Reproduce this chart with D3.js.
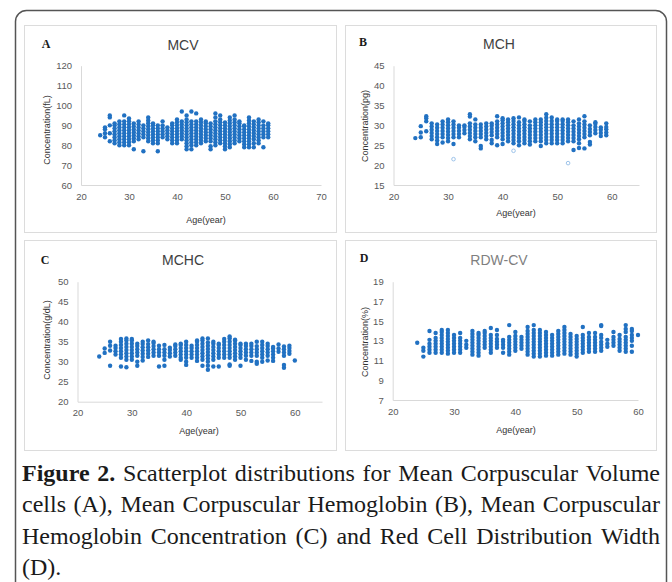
<!DOCTYPE html>
<html>
<head>
<meta charset="utf-8">
<script src="https://cdn.jsdelivr.net/npm/d3@7"></script>
<style>
body{margin:0;background:#fff}
svg{display:block}
</style>
</head>
<body>
<div id="container"></div>
<script>
// values, one column per age: [age, [values]]
var mcvCols = [
 [24,[85]],[25,[84,86,88,89]],[26,[82,86,90,94,95]],
 [27,[81,82.5,84,85.5,87,88.5,90,91]],[28,[80,81.5,83,84.5,86,87.5,89,90.5,92]],
 [29,[80,81.5,83,84.5,86,87.5,89,90.5,92,95]],[30,[80,81.5,83,84.5,86,87.5,89,90.5,92,93.5]],
 [31,[78,82,83.5,85,86.5,88,89.5,91]],[32,[83,84.5,86,87.5,89,90.5,92]],
 [33,[77,84,85.5,87,88.5,90]],[34,[82,83.5,85,86.5,88,89.5,91,92.5,94]],
 [35,[81,82.5,84,85.5,87,88.5,90,91]],[36,[77,81,82.5,84,85.5,87,88.5,90]],
 [37,[84,85.5,87,88.5,90,92]],[38,[83,84.5,86,87.5,89]],
 [39,[81,82.5,84,85.5,87,88.5,90,91]],[40,[81,82.5,84,85.5,87,88.5,90,91.5,93]],
 [41,[83,84.5,86,87.5,89,90.5,92,97]],[42,[78,79.5,81,82.5,84,85.5,87,88.5,90,91.5,93,95]],
 [43,[78,80,81.5,83,84.5,86,87.5,89,90.5,92,97]],[44,[80,81.5,83,84.5,86,87.5,89,90.5,92,96]],
 [45,[81,82.5,84,85.5,87,88.5,90,91.5,93]],[46,[82,83.5,85,86.5,88,89.5,91,92]],
 [47,[78,79.5,82,83.5,85,86.5,88,89.5,91]],[48,[80,81.5,83,84.5,86,87.5,89,90.5,92,94,96]],
 [49,[81,82.5,84,85.5,87,88.5,90,91.5,93,95]],[50,[78,79.5,81,82.5,84,85.5,87,88.5,90,91.5]],
 [51,[79,80.5,82,83.5,85,86.5,88,89.5,91,92.5,94]],[52,[81,82.5,84,85.5,87,88.5,90,91.5,93,95]],
 [53,[82,83.5,85,86.5,88,89.5,91,92]],[54,[79,80.5,82,83.5,85,86.5,88,89.5,90]],
 [55,[79,80.5,82,83.5,85,86.5,88,89.5,91,92.5,94]],[56,[79,81,83,84.5,86,87.5,89,90.5,92]],
 [57,[81,82.5,84,85.5,87,88.5,90,91.5,93]],[58,[79,84,85.5,87,88.5,90,92]],
 [59,[84,85.5,87,88.5,90,91]]
];
var mchCols = [
 [24,[26.8]],[25,[27,28.2,29.8]],[26,[28.5,31,31.8,32.3]],
 [27,[26.5,27.3,28.1,28.9,29.7,30.5]],[28,[25.3,26.2,27,27.8,28.6,29.4,30.2]],
 [29,[25.7,27,27.8,28.6,29.4,30.2,31]],[30,[26,26.8,27.6,28.4,29.2,30,30.8,31.5]],
 [31,[25.3,27,27.8,28.6,29.4,30.2,31]],[32,[27,27.8,28.6,29.4,30]],
 [33,[28,28.8,29.6,30]],[34,[26.5,27.3,28.1,28.9,29.7,30.5,32.2,32.8]],
 [35,[26,27,27.8,28.6,29.4,30.2,31.5]],[36,[24.2,24.8,27,27.8,28.6,29.4,30.2]],
 [37,[26.5,27.3,28.1,28.9,29.7,30.5]],[38,[25.5,26.3,27.5,28.3,29.1,29.9,30.5]],
 [39,[25,27,27.8,28.6,29.4,30.2,31,32.3]],[40,[25.3,26.5,27.3,28.1,28.9,29.7,30.5,31.3,31.8]],
 [41,[26,26.8,27.6,28.4,29.2,30,30.8,31.5]],[42,[25.5,26.3,27.1,27.9,28.7,29.5,30.3,31.1,31.8]],
 [43,[25,26,26.8,27.6,28.4,29.2,30,30.8,32]],[44,[25.5,26.3,27.1,27.9,28.7,29.5,30.3,31.1,31.5]],
 [45,[25.2,26,26.8,27.6,28.4,29.2,30,31]],[46,[26,26.8,27.6,28.4,29.2,30,30.8,31.5]],
 [47,[24.8,26,26.8,27.6,28.4,29.2,30,30.8,31.5]],[48,[25.5,26.3,27.1,27.9,28.7,29.5,30.3,31.1,31.9,32.8]],
 [49,[25.5,26.3,27.1,27.9,28.7,29.5,30.3,31.1,32]],[50,[25.5,26.3,27.1,27.9,28.7,29.5,30.3,31.1,31.5]],
 [51,[25.5,26.3,27.1,27.9,28.7,29.5,30.3,31.1,31.5]],[52,[26,26.8,27.6,28.4,29.2,30,30.8,31.5]],
 [53,[23.8,26,26.8,27.6,28.4,29.2,30,31]],[54,[24.3,25.5,26.5,27.3,28.1,28.9,29.7,30.5,31.5]],
 [55,[24.2,27,27.8,28.6,29.4,30.2,31,32.3]],[56,[25.2,25.8,27.5,28.3,29.1,30]],
 [57,[28,28.8,29.6,30.4,30.8]],[58,[27.3,28.1,28.9,29.5]],[59,[27.5,28.2,29,29.6,30.5]]
];
var mchFaint = [[31,21.5],[42,23.6],[52,20.5]];
var mchcCols = [
 [24,[31.3]],[25,[32.2,33.3]],[26,[29,32.8,34,35]],[27,[31.8,32.6,33.4,34]],
 [28,[28.8,31,31.8,32.6,33.4,34.2,35,35.7]],[29,[28.6,30.5,31.3,32.1,32.9,33.7,34.5,35.3,35.8]],
 [30,[30.5,31.3,32.1,32.9,33.7,34.5,35.3,35.7]],[31,[29,30,31.5,32.3,33.1,33.9,34.5]],
 [32,[30.3,31.2,32,32.8,33.6,34.4,35]],[33,[31.2,32,32.8,33.6,34.4,35.3]],
 [34,[31.5,32.3,33.1,33.9,34.7,35]],[35,[28.8,31.5,32.3,33.1,34]],
 [36,[29,30.5,31.5,32.3,33.1,34.2]],[37,[31.3,32.1,32.9,33.5]],
 [38,[31.5,32.3,33.1,33.9,34.3]],[39,[30.5,31,31.8,32.6,33.4,34.2,34.5]],
 [40,[29.2,30,31,31.8,32.6,33.4,34.2,35]],[41,[31,31.8,32.6,33.4,34]],
 [42,[30.2,31,31.8,32.6,33.4,34.2,35,35.3]],[43,[29,30.5,31.3,32.1,32.9,33.7,34.5,35.3,35.8]],
 [44,[28,29,30,30.8,31.6,32.4,33.2,34,34.8,35.8]],[45,[28.8,30.5,31.3,32.1,32.9,33.7,34.5,35]],
 [46,[28.8,31,31.8,32.6,33.4,34.2,34.5]],[47,[31,31.8,32.6,33.4,34.2,35,35.7]],
 [48,[29,29.3,31,31.8,32.6,33.4,34.2,35,35.8,36.3]],[49,[30.5,31.3,32.1,32.9,33.7,34.5,35.3,35.5]],
 [50,[29,31,31.8,32.6,33.4,34.2,34.5]],[51,[30.5,31.5,32.3,33.1,33.9,34.5]],
 [52,[30.2,31.5,32.3,33.1,33.9,34.5]],[53,[29.5,30,31.5,32.3,33.1,33.9,35]],
 [54,[30,31,31.8,32.6,33.4,34.2,35]],[55,[30.3,31.5,32.3,33.1,33.9,34.5]],
 [56,[30.2,31,31.8,32.6,33.3,33.7]],[57,[32.5,33.3,34.3]],
 [58,[28.5,29.2,31.5,32.3,33.1,33.8]],[59,[32,32.7,33.4,34]],[60,[30.3]]
];
var rdwCols = [
 [24,[12.8]],[25,[11.4,12.0,12.3]],[26,[11.8,12.1,12.4,12.7,13.1,14.0]],
 [27,[11.8,12.1,12.4,12.7,13.0,13.3,13.8]],[28,[11.8,12.1,12.4,12.7,13.0,13.3,13.6,13.9,14.1]],
 [29,[11.7,12.0,12.3,12.6,12.9,13.2,13.5,13.8,14.1]],[30,[11.8,12.1,12.4,12.7,13.0,13.3,13.6]],
 [31,[11.8,12.1,12.4,12.7,13.0,13.3,13.8]],[32,[12.3,12.6,13.0]],
 [33,[11.6,11.9,12.2,12.5,12.8,13.1,13.4,13.7,14.0]],[34,[11.5,11.8,12.1,12.4,12.7,13.0,13.3,13.6,13.8]],
 [35,[12.3,12.6,12.9,13.2,13.5,13.8,14.0]],[36,[11.8,12.1,12.4,12.7,13.0,13.3,13.6,14.3]],
 [37,[12.3,12.6,12.9,13.2,13.6,14.1]],[38,[11.8,12.3,12.6,12.9,13.1]],
 [39,[11.6,11.9,12.2,12.5,12.8,13.1,13.4,14.6]],[40,[12.0,12.3,12.6,12.9,13.2,13.5,13.9]],
 [41,[12.2,12.5,12.8,13.1,13.4]],[42,[11.6,11.9,12.2,12.5,12.8,13.1,13.4,13.7,14.0,14.4]],
 [43,[11.4,11.7,12.0,12.3,12.6,12.9,13.2,13.5,13.8,14.1,14.6]],[44,[11.4,11.7,12.0,12.3,12.6,12.9,13.2,13.5,13.8,14.1]],
 [45,[11.5,11.8,12.1,12.4,12.7,13.0,13.3,13.6,13.9]],[46,[11.5,11.8,12.1,12.4,12.7,13.0,13.3,13.6]],
 [47,[11.6,11.9,12.2,12.5,12.8,13.1,13.4,13.7,14.0]],[48,[11.7,12.0,12.3,12.6,12.9,13.2,13.5,13.8,14.1,14.4]],
 [49,[11.6,11.9,12.2,12.5,12.8,13.1,13.4,13.7]],[50,[11.4,11.7,12.0,12.3,12.6,12.9,13.2,13.5]],
 [51,[11.8,12.1,12.4,12.7,13.0,13.3,13.6,14.4]],[52,[11.9,12.2,12.5,12.8,13.1,13.4,13.8]],
 [53,[11.9,12.2,12.5,12.8,13.1,13.4,13.8]],[54,[12.0,12.3,12.6,12.9,13.3,13.6,14.5,14.6]],
 [55,[12.4,12.7,13.1]],[56,[12.5,12.8,13.1,13.4,13.9]],[57,[12.0,12.3,12.6,12.9,13.2,13.6]],
 [58,[11.9,12.2,12.5,12.8,13.1,13.4,13.9,14.2,14.6]],[59,[11.9,12.5,13.0,13.3,13.6,14.0,14.2]],
 [60,[13.6]]
];

var xTicks2070 = [20,30,40,50,60,70];
var xTicks2060 = [20,30,40,50,60];
var mcvTicks = [60,70,80,90,100,110,120];
var mchTicks = [15,20,25,30,35,40,45];
var mchcTicks = [20,25,30,35,40,45,50];
var rdwTicks = [7,9,11,13,15,17,19];

var captionLines = [
 "Figure 2. Scatterplot distributions for Mean Corpuscular Volume",
 "cells (A), Mean Corpuscular Hemoglobin (B), Mean Corpuscular",
 "Hemoglobin Concentration (C) and Red Cell Distribution Width",
 "(D)."
];

var W = 672, H = 582;
var dotColor = "#2171c2";
var sans = "'Liberation Sans', Arial, sans-serif";
var serif = "'Liberation Serif', 'Times New Roman', serif";

var svg = d3.select("#container").append("svg").attr("width", W).attr("height", H);

// outer frame
svg.append("rect")
	.attr("x", 15.5).attr("y", 10.5)
	.attr("width", 651).attr("height", 640)
	.attr("rx", 11)
	.attr("fill", "none")
	.attr("stroke", "#555")
	.attr("stroke-width", 1.5);

function flatten(cols){
	var out = [];
	cols.forEach(function(c){
		c[1].forEach(function(v){ out.push([c[0], v]); });
	});
	return out;
}

var panels = [
 {box:[24.5,25.5,312,207], letter:"A", letterPos:[46,48], title:"MCV", titlePos:[183,50], titleColor:"#404040",
  xr:[81,321], yr:[185,65.7], xd:[20,70], yd:[60,120], xt:xTicks2070, yt:mcvTicks,
  ytitle:"Concentration(fL)", ytPos:[50,130], xtitle:"Age(year)", xtPos:[206,223], data:flatten(mcvCols)},
 {box:[345.5,25.5,311,207], letter:"B", letterPos:[363,46], title:"MCH", titlePos:[499,49], titleColor:"#404040",
  xr:[393.5,639], yr:[185,65.7], xd:[20,65], yd:[15,45], xt:xTicks2060, yt:mchTicks,
  ytitle:"Concentration(pg)", ytPos:[368,126], xtitle:"Age(year)", xtPos:[516,216], data:flatten(mchCols), faint:mchFaint},
 {box:[24.5,240.5,312,210], letter:"C", letterPos:[45,264], title:"MCHC", titlePos:[183,265], titleColor:"#404040",
  xr:[77.5,322], yr:[401.7,281.7], xd:[20,65], yd:[20,50], xt:xTicks2060, yt:mchcTicks,
  ytitle:"Concentration(g/dL)", ytPos:[50,340], xtitle:"Age(year)", xtPos:[199,434], data:flatten(mchcCols)},
 {box:[345.5,240.5,311,210], letter:"D", letterPos:[364,262], title:"RDW-CV", titlePos:[499,265], titleColor:"#7f7f7f",
  xr:[392.7,638], yr:[400,281.7], xd:[20,60], yd:[7,19], xt:xTicks2060, yt:rdwTicks,
  ytitle:"Concentration(%)", ytPos:[368,342], xtitle:"Age(year)", xtPos:[516,433], data:flatten(rdwCols)}
];

panels.forEach(function(p){
	var g = svg.append("g");
	g.append("rect")
		.attr("x", p.box[0]).attr("y", p.box[1])
		.attr("width", p.box[2]).attr("height", p.box[3])
		.attr("fill", "#fff")
		.attr("stroke", "#dcdcdc");

	var x = d3.scaleLinear().domain(p.xd).range(p.xr);
	var y = d3.scaleLinear().domain(p.yd).range(p.yr);

	var xa = g.append("g").attr("transform", "translate(0," + p.yr[0] + ")")
		.call(d3.axisBottom(x).tickValues(p.xt).tickSize(0).tickPadding(8));
	var ya = g.append("g").attr("transform", "translate(" + p.xr[0] + ",0)")
		.call(d3.axisLeft(y).tickValues(p.yt).tickSize(0).tickPadding(9));
	[xa, ya].forEach(function(a){
		a.select(".domain").attr("stroke", "#d9d9d9");
		a.selectAll("text").attr("fill", "#595959").style("font-family", sans).style("font-size", "9.5px");
	});

	g.selectAll(".dot")
		.data(p.data)
		.enter()
		.append("circle")
		.attr("cx", function(d){ return x(d[0]); })
		.attr("cy", function(d){ return y(d[1]); })
		.attr("r", 2.2)
		.attr("fill", dotColor);

	if (p.faint) {
		g.selectAll(".faint")
			.data(p.faint)
			.enter()
			.append("circle")
			.attr("cx", function(d){ return x(d[0]); })
			.attr("cy", function(d){ return y(d[1]); })
			.attr("r", 1.8)
			.attr("fill", "none")
			.attr("stroke", "#9cc3ea")
			.attr("stroke-width", 1);
	}

	g.append("text")
		.attr("x", p.letterPos[0]).attr("y", p.letterPos[1])
		.attr("text-anchor", "middle")
		.style("font-family", serif).style("font-weight", "bold").style("font-size", "12px")
		.attr("fill", "#1a1a1a")
		.text(p.letter);
	g.append("text")
		.attr("x", p.titlePos[0]).attr("y", p.titlePos[1])
		.attr("text-anchor", "middle")
		.style("font-family", sans).style("font-size", "14px")
		.attr("fill", p.titleColor)
		.text(p.title);
	g.append("text")
		.attr("transform", "translate(" + p.ytPos[0] + "," + p.ytPos[1] + ") rotate(-90)")
		.attr("text-anchor", "middle")
		.style("font-family", sans).style("font-size", "9px")
		.attr("fill", "#333")
		.text(p.ytitle);
	g.append("text")
		.attr("x", p.xtPos[0]).attr("y", p.xtPos[1])
		.attr("text-anchor", "middle")
		.style("font-family", sans).style("font-size", "9px")
		.attr("fill", "#333")
		.text(p.xtitle);
});

// caption, justified word by word
var capLeft = 22, capRight = 660, capTop = 481, capStep = 31.3;
captionLines.forEach(function(line, i){
	var words = line.split(" ");
	var row = svg.append("g");
	var widths = [];
	words.forEach(function(w, j){
		var t = row.append("text")
			.attr("y", capTop + i * capStep)
			.style("font-family", serif)
			.style("font-size", "24px")
			.style("font-weight", (i == 0 && j < 2) ? "bold" : "normal")
			.attr("fill", "#1a1a1a")
			.text(w);
		widths.push(t.node().getComputedTextLength());
	});
	var total = d3.sum(widths);
	var last = i == captionLines.length - 1;
	var gap = (last || words.length < 2) ? 6 : (capRight - capLeft - total) / (words.length - 1);
	var cx = capLeft;
	row.selectAll("text").each(function(d, j){
		d3.select(this).attr("x", cx);
		cx += widths[j] + gap;
	});
});
</script>
</body>
</html>
